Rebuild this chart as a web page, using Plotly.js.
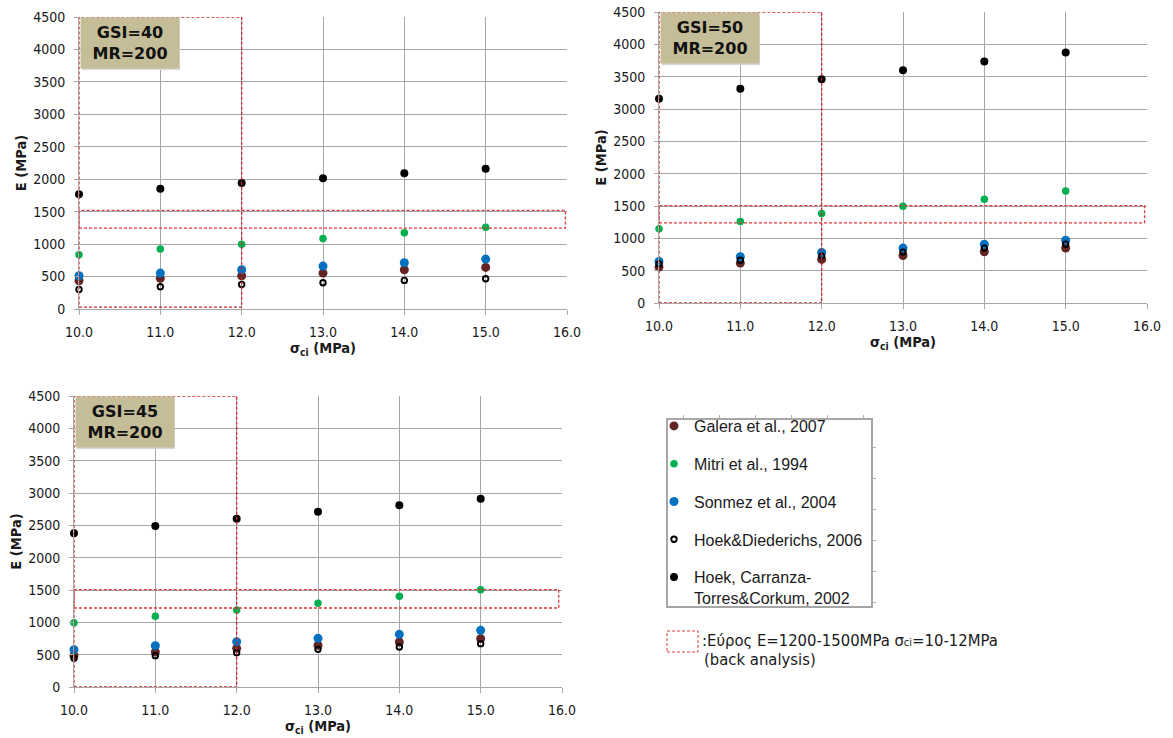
<!DOCTYPE html>
<html>
<head>
<meta charset="utf-8">
<script src="https://cdn.plot.ly/plotly-3.0.1.min.js"></script>
<style>html,body{margin:0;padding:0;background:#fff;}#chart{width:1173px;height:738px;}</style>
</head>
<body>
<div id="chart"></div>
<script>
// ---------- DATA ----------
const sigmaCi = [10, 11, 12, 13, 14, 15];
const seriesNames = ["Galera et al., 2007", "Mitri et al., 1994", "Sonmez et al., 2004", "Hoek&Diederichs, 2006", "Hoek, Carranza-<br>Torres&Corkum, 2002"];
const panelLabels = ["GSI=40<br>MR=200", "GSI=50<br>MR=200", "GSI=45<br>MR=200"];

// GSI = 40
const galera40  = [436, 472, 513, 553, 605, 641];
const mitri40   = [835, 923, 999, 1087, 1174, 1261];
const sonmez40  = [513, 553, 605, 661, 712, 769];
const hoekD40   = [302, 343, 379, 405, 441, 466];
const hoekCTC40 = [1768, 1855, 1942, 2014, 2091, 2163];
// GSI = 50
const galera50  = [555, 617, 674, 735, 792, 849];
const mitri50   = [1147, 1260, 1383, 1497, 1605, 1733];
const sonmez50  = [643, 715, 782, 849, 910, 972];
const hoekD50   = [602, 663, 725, 787, 849, 910];
const hoekCTC50 = [3158, 3312, 3461, 3600, 3734, 3873];
// GSI = 45
const galera45  = [485, 541, 598, 644, 696, 747];
const mitri45   = [995, 1093, 1191, 1294, 1402, 1505];
const sonmez45  = [577, 639, 701, 753, 814, 876];
const hoekD45   = [443, 485, 531, 582, 619, 670];
const hoekCTC45 = [2376, 2490, 2603, 2711, 2809, 2912];

// back-analysis ranges as drawn in each panel (E band, sigma band)
const bandElow   = [1245, 1240, 1222];
const bandEhigh  = [1520, 1507, 1505];
const bandSigEnd = [15.98, 15.97, 15.96];
const colSigLow  = [10, 10, 10];
const colSigHigh = [12, 12, 12];
const colElow    = [30, 0, 0];
const colEhigh   = [4500, 4500, 4500];

// ---------- STYLE ----------
const W = 1173, H = 738;
const px = v => v / W;
const py = v => 1 - v / H;
const FONT = "DejaVu Sans Condensed, DejaVu Sans, sans-serif";
const tickFont = {family: FONT, size: 14, color: "#1a1a1a"};
const titleFont = {family: FONT, size: 14.5, color: "#1a1a1a", weight: "bold"};
const gridC = "#a6a6a6";
const red = "#e0393b";

const markerStyles = [
  {color: "#632523", size: 9, symbol: "circle"},
  {color: "#00b050", size: 7.5, symbol: "circle"},
  {color: "#0070c0", size: 9, symbol: "circle"},
  {color: "#000000", size: 5.5, symbol: "circle-open", line: {color: "#000000", width: 1.9}},
  {color: "#000000", size: 8, symbol: "circle"}
];

const panelSeries = [
  [galera40, mitri40, sonmez40, hoekD40, hoekCTC40],
  [galera50, mitri50, sonmez50, hoekD50, hoekCTC50],
  [galera45, mitri45, sonmez45, hoekD45, hoekCTC45]
];
// plot-area pixel boxes [left, right, top, bottom]
const boxes = [[79, 567, 17, 309], [659, 1147, 12, 303], [74, 562, 396, 687]];

const traces = [];
panelSeries.forEach((series, p) => {
  const sfx = p === 0 ? "" : String(p + 1);
  series.forEach((vals, i) => {
    traces.push({
      type: "scatter", mode: "markers",
      x: sigmaCi, y: vals,
      xaxis: "x" + sfx, yaxis: "y" + sfx,
      name: seriesNames[i],
      legendgroup: "g" + i,
      showlegend: p === 0,
      marker: markerStyles[i],
      cliponaxis: false,
      hoverinfo: "x+y"
    });
  });
});
// empty frame subplot holding the legend (gives the little frame ticks)
traces.push({type: "scatter", mode: "markers", x: [], y: [], xaxis: "x4", yaxis: "y4", showlegend: false, hoverinfo: "skip"});

const layout = {
  width: W, height: H,
  margin: {l: 0, r: 0, t: 0, b: 0},
  paper_bgcolor: "#fff", plot_bgcolor: "#fff",
  showlegend: true,
  legend: {
    x: px(654), y: py(409), xanchor: "left", yanchor: "top",
    bgcolor: "rgba(0,0,0,0)", borderwidth: 0,
    font: {family: "Liberation Sans, Arial, sans-serif", size: 16, color: "#1a1a1a"},
    traceorder: "grouped", tracegroupgap: 14, itemsizing: "trace", valign: "top"
  },
  xaxis4: {domain: [px(667), px(872)], anchor: "y4", side: "top", range: [0, 205], tick0: 16, dtick: 36,
    showgrid: false, zeroline: false, showline: false, showticklabels: false, ticks: "outside", ticklen: 3, tickcolor: "#b0b0b0"},
  yaxis4: {domain: [py(607), py(419)], anchor: "x4", side: "right", range: [0, 188], tick0: 5, dtick: 31,
    showgrid: false, zeroline: false, showline: false, showticklabels: false, ticks: "outside", ticklen: 3, tickcolor: "#b0b0b0"},
  shapes: [], annotations: []
};

boxes.forEach((b, p) => {
  const sfx = p === 0 ? "" : String(p + 1);
  layout["xaxis" + sfx] = {
    domain: [px(b[0]), px(b[1])], anchor: "y" + sfx,
    range: [10, 16], dtick: 1, tick0: 10, tickformat: ".1f",
    showgrid: true, gridcolor: gridC, gridwidth: 1,
    showline: true, linecolor: gridC, linewidth: 1,
    ticks: "outside", ticklen: 5, tickcolor: gridC,
    ticklabelstandoff: 5,
    zeroline: false, tickfont: tickFont,
    title: {text: "σ<sub>ci</sub> (MPa)", font: titleFont, standoff: 3}
  };
  layout["yaxis" + sfx] = {
    domain: [py(b[3]), py(b[2])], anchor: "x" + sfx,
    range: [0, 4500], dtick: 500, tick0: 0,
    showgrid: true, gridcolor: gridC, gridwidth: 1,
    showline: true, linecolor: gridC, linewidth: 1,
    ticks: "outside", ticklen: 4, tickcolor: gridC,
    ticklabelstandoff: 6,
    zeroline: false, tickfont: tickFont,
    title: {text: "E (MPa)", font: titleFont, standoff: 3}
  };
  const xr = "x" + sfx, yr = "y" + sfx;
  // sigma band (10-12)
  layout.shapes.push({type: "rect", xref: xr, yref: yr,
    x0: colSigLow[p], x1: colSigHigh[p], y0: colElow[p], y1: colEhigh[p],
    line: {color: "#c8282a", width: 1.3, dash: "3px,2px"}, fillcolor: "rgba(0,0,0,0)"});
  // E band
  layout.shapes.push({type: "rect", xref: xr, yref: yr,
    x0: colSigLow[p], x1: bandSigEnd[p], y0: bandElow[p], y1: bandEhigh[p],
    line: {color: red, width: 1.3, dash: "3px,2px"}, fillcolor: "rgba(0,0,0,0)"});
  // label box shadow
  layout.shapes.push({type: "rect", xref: "paper", yref: "paper", layer: "above",
    x0: px(b[0] + 3), x1: px(b[0] + 101), y0: py(b[2] + 53), y1: py(b[2] + 3),
    line: {width: 0}, fillcolor: "#d6d6d6"});
  // label box
  layout.annotations.push({
    xref: "paper", yref: "paper", x: px(b[0] + 0.5), y: py(b[2]),
    xanchor: "left", yanchor: "top",
    text: "<b>" + panelLabels[p] + "</b>", showarrow: false,
    width: 98, height: 50, bgcolor: "#c4bd97",
    font: {family: "DejaVu Sans, sans-serif", size: 16, color: "#111"},
    align: "center", valign: "middle", borderpad: 0
  });
});

// legend frame
layout.shapes.push({type: "rect", xref: "paper", yref: "paper",
  x0: px(667), x1: px(872), y0: py(607), y1: py(419),
  line: {color: "#a6a6a6", width: 2}, fillcolor: "rgba(0,0,0,0)"});
// range key
layout.shapes.push({type: "rect", xref: "paper", yref: "paper",
  x0: px(667), x1: px(698), y0: py(652), y1: py(631),
  line: {color: red, width: 1, dash: "3px,2px"}, fillcolor: "rgba(0,0,0,0)"});
layout.annotations.push({
  xref: "paper", yref: "paper", x: px(700), y: py(640), xanchor: "left", yanchor: "middle",
  showarrow: false, align: "left",
  text: ":Εύρος E=1200-1500MPa σ<span style='font-size:11px'>ci</span>=10-12MPa",
  font: {family: FONT, size: 16.5, color: "#1a1a1a"}
});
layout.annotations.push({
  xref: "paper", yref: "paper", x: px(702), y: py(659), xanchor: "left", yanchor: "middle",
  showarrow: false, align: "left",
  text: "(back analysis)",
  font: {family: FONT, size: 16.5, color: "#1a1a1a"}
});

Plotly.newPlot("chart", traces, layout, {displayModeBar: false, staticPlot: true});
</script>
</body>
</html>
